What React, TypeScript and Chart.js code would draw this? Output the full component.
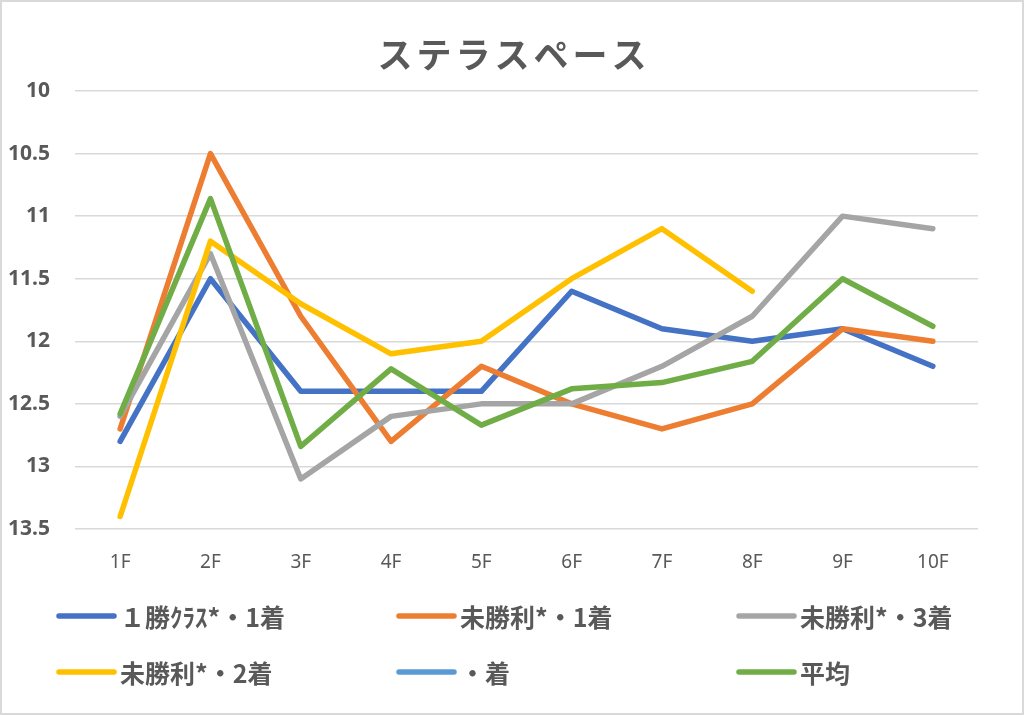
import React, { useEffect, useRef } from "react";
import { Chart, registerables } from "chart.js";

Chart.register(...registerables);

const chartTitle = "ステラスペース";
const categories = ["1F", "2F", "3F", "4F", "5F", "6F", "7F", "8F", "9F", "10F"];
const seriesNames = ["１勝ｸﾗｽ*・1着", "未勝利*・1着", "未勝利*・3着", "未勝利*・2着", "・着", "平均"];
const seriesColors = ["#4472C4", "#ED7D31", "#A5A5A5", "#FFC000", "#5B9BD5", "#70AD47"];
const class1Win1 = [12.8, 11.5, 12.4, 12.4, 12.4, 11.6, 11.9, 12.0, 11.9, 12.2];
const maiden1 = [12.7, 10.5, 11.8, 12.8, 12.2, 12.5, 12.7, 12.5, 11.9, 12.0];
const maiden3 = [12.6, 11.3, 13.1, 12.6, 12.5, 12.5, 12.2, 11.8, 11.0, 11.1];
const maiden2 = [13.4, 11.2, 11.7, 12.1, 12.0, 11.5, 11.1, 11.6, null, null];
const blankSeries = [null, null, null, null, null, null, null, null, null, null];
const average = [12.58, 10.86, 12.84, 12.22, 12.67, 12.38, 12.33, 12.16, 11.5, 11.88];
const yMin = 10;
const yMax = 13.5;
const yStep = 0.5;

const seriesValues = [class1Win1, maiden1, maiden3, maiden2, blankSeries, average];

const TEXT_COLOR = "#595959";

const decorPlugin = {
  id: "decor",
  beforeDraw(chart: any) {
    const ctx = chart.ctx;
    ctx.save();
    ctx.fillStyle = "#ffffff";
    ctx.fillRect(0, 0, chart.width, chart.height);
    ctx.strokeStyle = "#D9D9D9";
    ctx.lineWidth = 2;
    ctx.strokeRect(1, 1, chart.width - 2, chart.height - 2);
    ctx.restore();
  },
  afterDraw(chart: any) {
    const ctx = chart.ctx;
    ctx.save();
    // title
    ctx.fillStyle = TEXT_COLOR;
    ctx.font = "bold 35px 'Noto Sans CJK JP'";
    ctx.textAlign = "center";
    ctx.textBaseline = "middle";
    try { (ctx as any).letterSpacing = "4px"; } catch (e) {}
    ctx.fillText(chartTitle, 514, 55);
    try { (ctx as any).letterSpacing = "0px"; } catch (e) {}
    // legend
    const colX = [57, 397, 737];
    const rowY = [616, 672];
    ctx.textAlign = "left";
    ctx.font = "bold 25px 'Noto Sans CJK JP'";
    chart.data.datasets.forEach((ds: any, i: number) => {
      const x = colX[i % 3];
      const y = rowY[Math.floor(i / 3)];
      ctx.strokeStyle = ds.borderColor;
      ctx.lineWidth = 5.5;
      ctx.lineCap = "round";
      ctx.beginPath();
      ctx.moveTo(x + 2, y);
      ctx.lineTo(x + 57, y);
      ctx.stroke();
      ctx.fillStyle = TEXT_COLOR;
      ctx.fillText(ds.label, x + 63, y + 1);
    });
    ctx.restore();
  },
};

export default function App() {
  const canvasRef = useRef<HTMLCanvasElement | null>(null);

  useEffect(() => {
    document.body.style.margin = "0";
    const canvas = canvasRef.current;
    if (!canvas) return;
    const n = seriesValues.length;
    const chart = new Chart(canvas, {
      type: "line",
      data: {
        labels: categories,
        datasets: seriesValues.map((vals, i) => ({
          label: seriesNames[i],
          data: vals,
          borderColor: seriesColors[i],
          backgroundColor: seriesColors[i],
          borderWidth: 5.5,
          pointRadius: 0,
          pointHoverRadius: 0,
          tension: 0,
          fill: false,
          spanGaps: false,
          borderCapStyle: "round",
          borderJoinStyle: "round",
          order: n - i,
        })),
      },
      options: {
        responsive: false,
        animation: false,
        devicePixelRatio: 1,
        layout: { padding: { left: 0, right: 46, top: 91, bottom: 0 } },
        plugins: {
          legend: { display: false },
          title: { display: false },
          tooltip: { enabled: false },
        },
        scales: {
          x: {
            offset: true,
            grid: { display: false, drawTicks: false },
            border: { display: false },
            ticks: {
              color: TEXT_COLOR,
              font: { family: "'Noto Sans', sans-serif", size: 19 },
              padding: 22,
              maxRotation: 0,
            },
            afterFit(scale: any) {
              scale.height = 186;
            },
          },
          y: {
            reverse: true,
            min: yMin,
            max: yMax,
            grid: { color: "#D9D9D9", lineWidth: 1.5, drawTicks: false },
            border: { display: false },
            ticks: {
              stepSize: yStep,
              color: TEXT_COLOR,
              font: { family: "'Noto Sans', sans-serif", size: 21, weight: "bold" },
              padding: 25,
              callback: (v: any) => String(Number(v)),
            },
            afterFit(scale: any) {
              scale.width = 75;
            },
          },
        },
      },
      plugins: [decorPlugin],
    });
    return () => chart.destroy();
  }, []);

  return (
    <div style={{ position: "fixed", left: 0, top: 0, width: 1024, height: 715, background: "#fff" }}>
      <canvas ref={canvasRef} width={1024} height={715} style={{ width: 1024, height: 715, display: "block" }} />
    </div>
  );
}
